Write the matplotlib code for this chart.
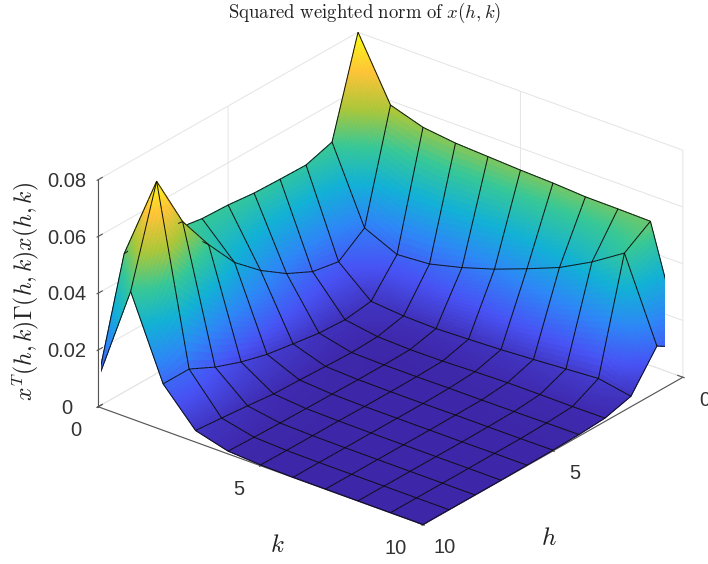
import numpy as np
import matplotlib
matplotlib.use("Agg")
import matplotlib.pyplot as plt
from matplotlib.colors import LinearSegmentedColormap
from mpl_toolkits.mplot3d.art3d import Poly3DCollection

plt.rcParams["font.family"] = ["Liberation Sans", "DejaVu Sans"]
plt.rcParams["mathtext.fontset"] = "cm"

# Values, one row per h = 0..10, one column per k = 0..10
h_values = [0, 1, 2, 3, 4, 5, 6, 7, 8, 9, 10]
k_values = [0, 1, 2, 3, 4, 5, 6, 7, 8, 9, 10]
norm_h0 = [.0800, .0585, .0548, .0534, .0528, .0522, .0518, .0511, .0510, .0508, .0106]
norm_h1 = [.0465, .0204, .0152, .0160, .0189, .0225, .0268, .0314, .0375, .0448, .0162]
norm_h2 = [.0436, .0137, .0039, .0029, .0026, .0030, .0035, .0042, .0050, .0058, .0037]
norm_h3 = [.0438, .0154, .0026, .0008, .0004, .0005, .0009, .0012, .0012, .0011, .0012]
norm_h4 = [.0441, .0199, .0031, .0004, .0002, .0002, .0003, .0003, .0004, .0005, .0006]
norm_h5 = [.0451, .0262, .0045, .0007, .0002, .0001, .0001, .0002, .0002, .0002, .0003]
norm_h6 = [.0455, .0342, .0060, .0011, .0003, .0001, .0001, .0001, .0001, .0002, .0002]
norm_h7 = [.0470, .0457, .0085, .0014, .0004, .0002, .0001, .0001, .0001, .0001, .0001]
norm_h8 = [.0500, .0590, .0119, .0024, .0005, .0002, .0001, .0001, .0001, .0001, .0001]
norm_h9 = [.0487, .0784, .0164, .0033, .0007, .0002, .0001, .0001, .0001, .0001, .0001]
norm_h10 = [.0099, .0448, .0164, .0041, .0010, .0003, .0001, .0001, .0001, .0001, .0001]

axis_ticks = [0, 5, 10]
z_ticks = [0, 0.02, 0.04, 0.06, 0.08]
z_tick_labels = ["0", "0.02", "0.04", "0.06", "0.08"]

Z = np.array([norm_h0, norm_h1, norm_h2, norm_h3, norm_h4, norm_h5,
              norm_h6, norm_h7, norm_h8, norm_h9, norm_h10])
H = np.array(h_values, dtype=float)
K = np.array(k_values, dtype=float)

parula = LinearSegmentedColormap.from_list("parula", [
    (.2422, .1504, .6603), (.2810, .3228, .9579), (.1786, .5289, .9682),
    (.0689, .6948, .8394), (.2161, .7843, .5923), (.6720, .7793, .2227),
    (.9970, .7659, .2199), (.9769, .9839, .0805)])

ELEV, AZIM = 27, 38.66
ASPECT = (1, 1, 0.6125)
W, HT = 708, 564

fig = plt.figure(figsize=(W / 100, HT / 100), dpi=100)
side = 564
ax = fig.add_axes([100.9 / W, -4.1 / HT, side / W, side / HT], projection="3d")
ax.set_proj_type("ortho")
ax.view_init(elev=ELEV, azim=AZIM)
ax.set_box_aspect(ASPECT, zoom=622.4 / side)
ax.set_xlim(0, 10, view_margin=0)
ax.set_ylim(0, 10, view_margin=0)
ax.set_zlim(0, 0.08, view_margin=0)

# Interpolated shading: split each cell of the mesh into small coloured quads
n_sub = 20
s_grid = np.arange(n_sub + 1) / n_sub
polys, faces, edges = [], [], []
for i in range(len(H) - 1):
    for j in range(len(K) - 1):
        S, T = np.meshgrid(s_grid, s_grid, indexing="ij")
        cell = ((1 - S) * (1 - T) * Z[i, j] + S * (1 - T) * Z[i + 1, j]
                + S * T * Z[i + 1, j + 1] + (1 - S) * T * Z[i, j + 1])
        for a in range(n_sub):
            for b in range(n_sub):
                corners = [(H[i] + S[u, v], K[j] + T[u, v], cell[u, v])
                           for u, v in [(a, b), (a + 1, b), (a + 1, b + 1), (a, b + 1)]]
                col = parula(np.mean([c[2] for c in corners]) / 0.08)
                polys.append(corners)
                faces.append(col)
                edges.append(col)

# Mesh lines go in the same collection, pushed toward the viewer so they sort in front.
# The view is orthographic, so that shift does not move them on the screen.
e, a = np.radians(ELEV), np.radians(AZIM)
bias = 0.04 * np.array([np.cos(e) * np.cos(a) * 10, np.cos(e) * np.sin(a) * 10,
                        np.sin(e) * 0.08 / ASPECT[2]])
black = (0.05, 0.05, 0.05, 1)


def add_line(p0, p1):
    p0, p1 = np.array(p0), np.array(p1)
    for m in range(n_sub):
        q0 = p0 + (p1 - p0) * m / n_sub + bias
        q1 = p0 + (p1 - p0) * (m + 1) / n_sub + bias
        polys.append([tuple(q0), tuple(q1)])
        faces.append((0, 0, 0, 0))
        edges.append(black)


for i in range(len(H)):
    for j in range(len(K)):
        if i < len(H) - 1:
            add_line((H[i], K[j], Z[i, j]), (H[i + 1], K[j], Z[i + 1, j]))
        if j < len(K) - 1:
            add_line((H[i], K[j], Z[i, j]), (H[i], K[j + 1], Z[i, j + 1]))

surface = Poly3DCollection(polys, facecolors=faces, edgecolors=edges, linewidths=0.7)
ax.add_collection3d(surface, autolim=False)

# Axes
ax.set_xticks(axis_ticks)
ax.set_yticks(axis_ticks)
ax.set_zticks(z_ticks)
ax.set_zticklabels(z_tick_labels)
ax.zaxis.set_ticks_position("lower")
for axis in (ax.xaxis, ax.yaxis, ax.zaxis):
    axis.set_pane_color((1, 1, 1, 0))
    axis.pane.set_edgecolor("#e4e4e4")
    axis.line.set_color("#555555")
    axis.line.set_linewidth(0.8)
    axis._axinfo["grid"].update(color="#e4e4e4", linewidth=0.7)
    axis._axinfo["tick"].update(inward_factor=0.05, outward_factor=0.2)
ax.tick_params(axis="x", labelsize=14.5, labelcolor="#333333", color="#555555", pad=6)
ax.tick_params(axis="y", labelsize=14.5, labelcolor="#333333", color="#555555", pad=5.5)
ax.tick_params(axis="z", labelsize=14.5, labelcolor="#333333", color="#555555")
for label in ax.get_xticklabels():
    label.set_ha("center")
    label.set_va("center")
for label in ax.get_yticklabels():
    label.set_ha("right")
    label.set_va("center")
for label in ax.get_zticklabels():
    label.set_va("center")

fig.text(365 / W, 1 - 13 / HT, r"$\mathrm{Squared\ weighted\ norm\ of\ }x(h,k)$",
         ha="center", va="center", fontsize=13.5, color="#222222")
fig.text(277 / W, 1 - 545 / HT, r"$k$", ha="center", va="center", fontsize=18, color="#222222")
fig.text(549 / W, 1 - 538 / HT, r"$h$", ha="center", va="center", fontsize=18, color="#222222")
fig.text(26 / W, 1 - 292 / HT, r"$x^T(h,k)\Gamma(h,k)x(h,k)$", rotation=90,
         ha="center", va="center", fontsize=17, color="#222222")

fig.savefig("out.png", dpi=100)
